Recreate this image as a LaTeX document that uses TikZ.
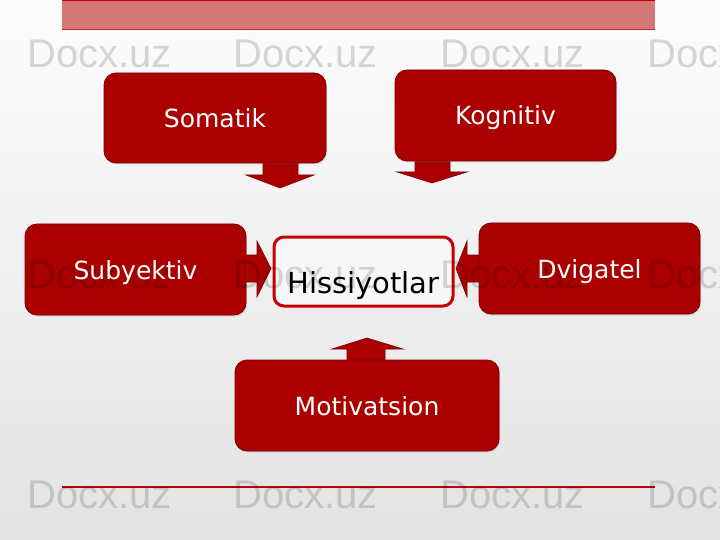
\documentclass[tikz,border=0pt]{standalone}
\usepackage{fontspec}
\setmainfont{DejaVu Sans}
\newfontfamily\wmfont{Liberation Sans}
\usetikzlibrary{shadows}
\definecolor{boxred}{RGB}{170,0,0}
\definecolor{boxedge}{RGB}{125,0,0}
\definecolor{hisedge}{RGB}{200,0,0}
\definecolor{barred}{RGB}{210,120,120}
\definecolor{baredge}{RGB}{185,40,40}
\definecolor{linered}{RGB}{190,0,0}
\tikzset{
  redbox/.style={draw=boxedge, line width=0.8pt, fill=boxred, rounded corners=12pt,
    inner sep=0pt, drop shadow={shadow xshift=1pt, shadow yshift=-1.5pt, opacity=0.25}},
  boxtext/.style={text=white, font=\fontsize{25}{30}\selectfont, text height=19pt, text depth=0pt, inner sep=0pt},
  hisbox/.style={draw=hisedge, line width=3pt, fill=gray!6, rounded corners=10pt, inner sep=0pt},
  blockarrow/.style={fill=boxred, draw=boxedge, line width=0.6pt, line join=miter},
  watermark/.style={font=\wmfont\fontsize{40}{40}\selectfont, text=black, opacity=0.15, anchor=base west, inner sep=0pt}
}
\begin{document}
\begin{tikzpicture}[x=1pt,y=-1pt]
\useasboundingbox (0,0) rectangle (720,540);
% background
\shade[top color=gray!2, bottom color=gray!22] (0,0) rectangle (720,540);
% top bar
\fill[barred] (62,0) rectangle (655,29);
\draw[baredge, line width=0.8pt] (62,29) -- (655,29);
\fill[linered] (62,0) rectangle (655,1.2);
% bottom line
\draw[linered, line width=1.6pt] (62,487) -- (655,487);

% block arrows
\draw[blockarrow] (263,162) -- (263,175) -- (246,175) -- (280,188) -- (314,175) -- (298,175) -- (298,162) -- cycle;
\draw[blockarrow] (415,160) -- (415,172) -- (397,172) -- (432,183) -- (467,172) -- (450,172) -- (450,160) -- cycle;
\draw[blockarrow] (245,255) -- (257,255) -- (257,241) -- (271,268.5) -- (257,297) -- (257,282) -- (245,282) -- cycle;
\draw[blockarrow] (480,255) -- (467,255) -- (467,241) -- (456,268.5) -- (467,297) -- (467,282) -- (480,282) -- cycle;
\draw[blockarrow] (347,361) -- (347,349) -- (332,349) -- (367,338) -- (403,349) -- (385,349) -- (385,361) -- cycle;

% boxes
\node[redbox, minimum width=222pt, minimum height=90pt] (som) at (215,118) {};
\node[redbox, minimum width=221pt, minimum height=91pt] (kog) at (505.5,115.5) {};
\node[redbox, minimum width=221pt, minimum height=91pt] (sub) at (135.5,269.5) {};
\node[redbox, minimum width=221pt, minimum height=91pt] (dvi) at (589.5,268.5) {};
\node[redbox, minimum width=264pt, minimum height=91pt] (mot) at (367,405.5) {};
\node[hisbox, minimum width=179pt, minimum height=69pt] (his) at (363.5,271.5) {};

% watermarks
\foreach \yy in {68,288,508}{
  \foreach \xx in {27,233,440,647}{
    \node[watermark] at (\xx,\yy) {Docx.uz};
  }
}

% texts
\node[boxtext] (somtxt) at (som) {Somatik};
\node[boxtext] (kogtxt) at (kog) {Kognitiv};
\node[boxtext] (subtxt) at (sub) {Subyektiv};
\node[boxtext] (dvitxt) at (dvi) {Dvigatel};
\node[boxtext] (mottxt) at (mot) {Motivatsion};
\node[anchor=base, inner sep=0pt, font=\fontsize{29}{34}\selectfont, text=black] (histxt) at (363.5,293) {Hissiyotlar};
\end{tikzpicture}
\end{document}
